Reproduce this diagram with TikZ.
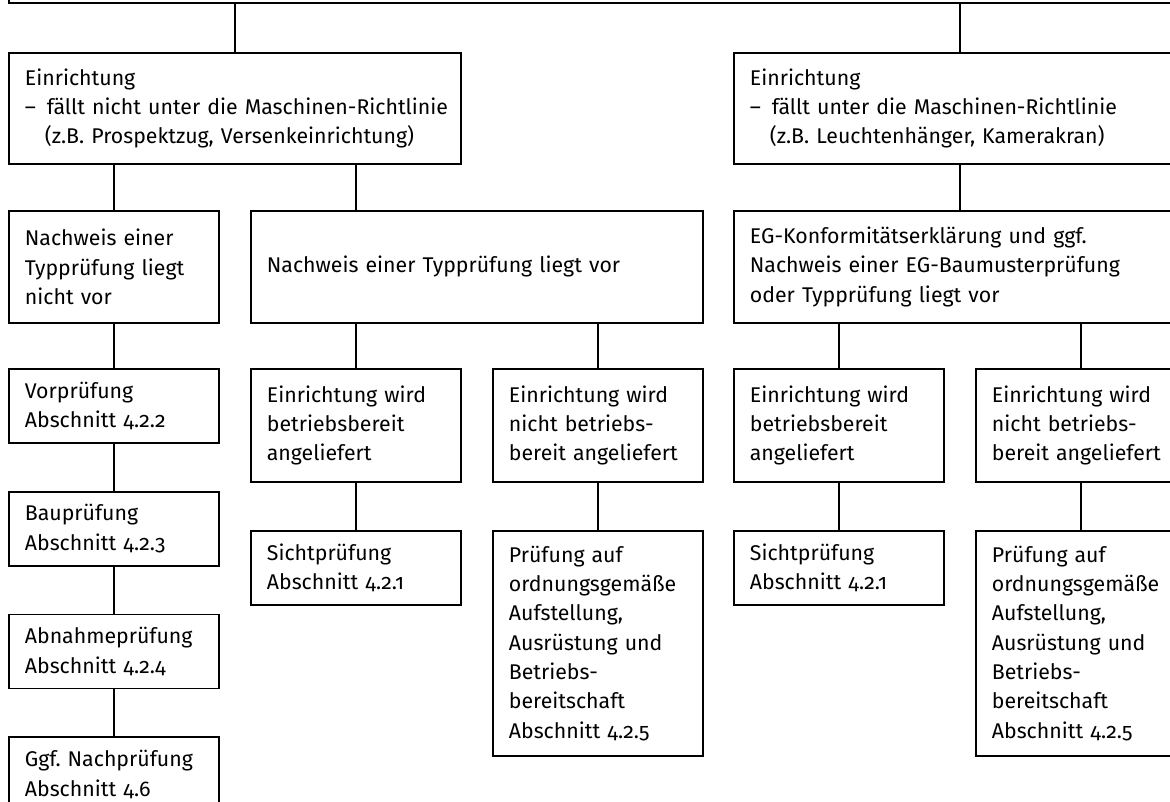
\documentclass[tikz,border=0pt]{standalone}
\usepackage{fontspec}
\setmainfont{Fira Sans}[Numbers=OldStyle]
\usetikzlibrary{positioning}

\newcommand{\strich}{\makebox[22pt][l]{–}}
\newcommand{\einzug}{\hspace*{20pt}}
\hyphenpenalty=10000
\exhyphenpenalty=10000
\frenchspacing

\begin{document}
\begin{tikzpicture}[x=1pt,y=-1pt,
    box/.style={draw,line width=1.8pt,anchor=north west,align=left,
      text width=178pt,inner xsep=16pt,inner ysep=0pt,minimum width=210pt,
      font=\fontsize{21.3}{29.3}\selectfont},
    widebox/.style={box,text width=420pt,minimum width=452pt},
    link/.style={line width=1.8pt}]
  \useasboundingbox (0,0) rectangle (1170,801);
  \clip (0,0) rectangle (1170,801);

  % top level (cut off)
  \node[draw,line width=1.8pt,anchor=south west,minimum width=1300pt,minimum height=100pt] (top) at (8,4) {};

  % row 1
  \node[widebox,minimum height=111pt] (ohneMRL) at (8,52)
    {Einrichtung\\\strich fällt~nicht~unter~die~Maschinen-Richtlinie\\\einzug(z.B. Prospektzug, Versenkeinrichtung)};
  \node[widebox,minimum height=111pt] (mitMRL) at (733,52)
    {Einrichtung\\\strich fällt~unter~die~Maschinen-Richtlinie\\\einzug(z.B. Leuchtenhänger, Kamerakran)};

  % row 2
  \node[box,minimum height=112pt] (keinTyp) at (8,210) {Nachweis einer\\Typprüfung~liegt\\nicht vor};
  \node[widebox,minimum height=112pt] (typ) at (250,210) {Nachweis einer Typprüfung liegt vor};
  \node[widebox,minimum height=112pt] (eg) at (733,210)
    {EG-Konformitätserklärung und ggf.\\Nachweis einer EG-Baumusterprüfung\\oder Typprüfung liegt vor};

  % left column
  \node[box,minimum height=74pt] (vor) at (8,368) {Vorprüfung\\Abschnitt 4.2.2};
  \node[box,minimum height=74pt,below=47pt of vor.south west,anchor=north west] (bau) {Bauprüfung\\Abschnitt 4.2.3};
  \node[box,minimum height=74pt,below=47pt of bau.south west,anchor=north west] (abnahme) {Abnahmeprüfung\\Abschnitt 4.2.4};
  \node[box,minimum height=74pt,below=47pt of abnahme.south west,anchor=north west] (nach) {Ggf. Nachprüfung\\Abschnitt 4.6};

  % row 3
  \node[box,minimum height=113pt] (bereitA) at (250,368) {Einrichtung~wird\\betriebsbereit\\angeliefert};
  \node[box,minimum height=113pt] (nichtA) at (492,368) {Einrichtung~wird\\nicht betriebs-\\bereit~angeliefert};
  \node[box,minimum height=113pt] (bereitB) at (733,368) {Einrichtung~wird\\betriebsbereit\\angeliefert};
  \node[box,minimum height=113pt] (nichtB) at (975,368) {Einrichtung~wird\\nicht betriebs-\\bereit~angeliefert};

  % row 4
  \node[box,minimum height=74pt,below=47pt of bereitA.south west,anchor=north west] (sichtA) {Sichtprüfung\\Abschnitt 4.2.1};
  \node[box,minimum height=225pt,below=47pt of nichtA.south west,anchor=north west] (aufstA)
    {Prüfung auf\\ordnungsgemäße\\Aufstellung,\\Ausrüstung~und\\Betriebs-\\bereitschaft\\Abschnitt 4.2.5};
  \node[box,minimum height=74pt,below=47pt of bereitB.south west,anchor=north west] (sichtB) {Sichtprüfung\\Abschnitt 4.2.1};
  \node[box,minimum height=225pt,below=47pt of nichtB.south west,anchor=north west] (aufstB)
    {Prüfung auf\\ordnungsgemäße\\Aufstellung,\\Ausrüstung~und\\Betriebs-\\bereitschaft\\Abschnitt 4.2.5};

  % connectors
  \draw[link] (ohneMRL.north) -- (ohneMRL.north |- top.south);
  \draw[link] (mitMRL.north) -- (mitMRL.north |- top.south);
  \draw[link] (keinTyp.north) -- (keinTyp.north |- ohneMRL.south);
  \draw[link] (bereitA.north |- typ.north) -- (bereitA.north |- ohneMRL.south);
  \draw[link] (eg.north) -- (mitMRL.south);
  \draw[link] (vor.north) -- (keinTyp.south);
  \draw[link] (bereitA.north) -- (bereitA.north |- typ.south);
  \draw[link] (nichtA.north) -- (nichtA.north |- typ.south);
  \draw[link] (bereitB.north) -- (bereitB.north |- eg.south);
  \draw[link] (nichtB.north) -- (nichtB.north |- eg.south);
  \draw[link] (bau.north) -- (vor.south);
  \draw[link] (abnahme.north) -- (bau.south);
  \draw[link] (nach.north) -- (abnahme.south);
  \draw[link] (sichtA.north) -- (bereitA.south);
  \draw[link] (aufstA.north) -- (nichtA.south);
  \draw[link] (sichtB.north) -- (bereitB.south);
  \draw[link] (aufstB.north) -- (nichtB.south);
\end{tikzpicture}
\end{document}
